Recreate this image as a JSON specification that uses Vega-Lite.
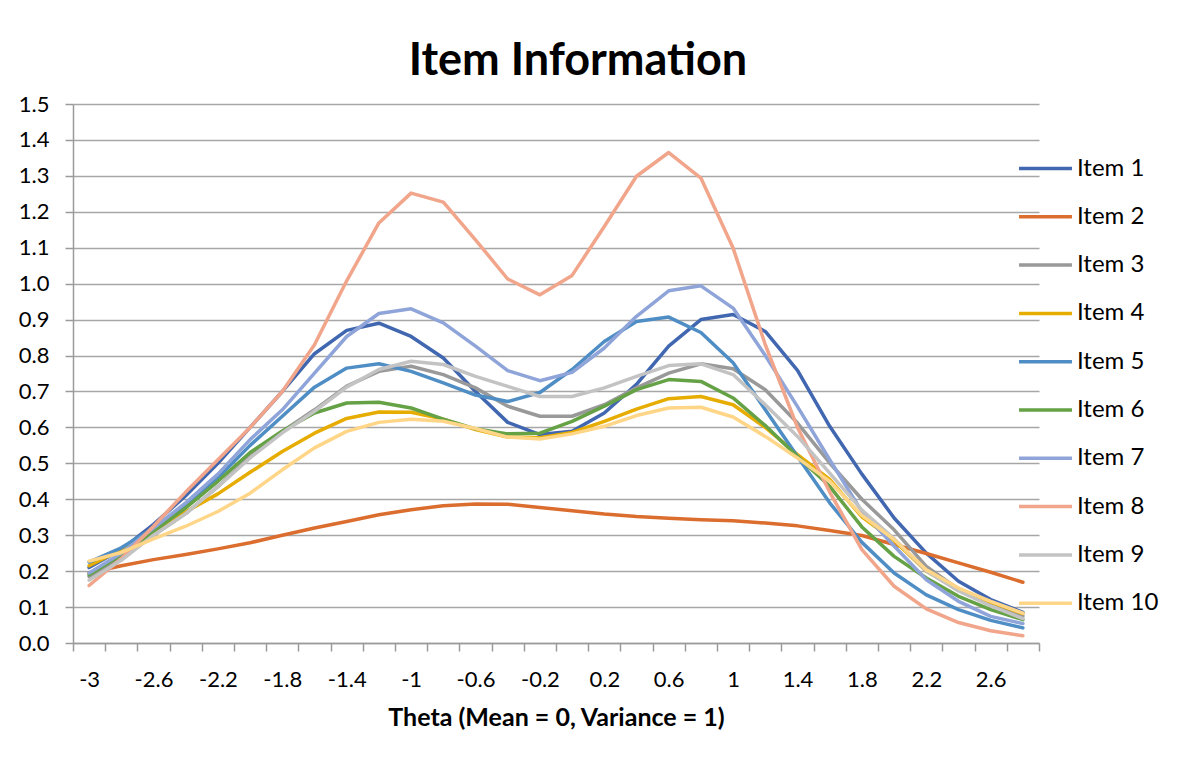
{
  "$schema": "https://vega.github.io/schema/vega-lite/v6.json",
  "width": 966,
  "height": 539,
  "autosize": {"type": "none"},
  "padding": {"left": 73, "top": 104, "right": 139, "bottom": 118},
  "background": "white",
  "title": {"text": "Item Information", "font": "Lato", "fontSize": 45, "fontWeight": "bold", "color": "#000000", "anchor": "middle", "offset": 9, "dx": 22},
  "config": {
    "view": {"stroke": null},
    "font": "Lato"
  },
  "data": {"values": [
{"theta":-3,"item":"Item 1","info":0.21},{"theta":-2.8,"item":"Item 1","info":0.26},{"theta":-2.6,"item":"Item 1","info":0.33},{"theta":-2.4,"item":"Item 1","info":0.41},{"theta":-2.2,"item":"Item 1","info":0.5},{"theta":-2,"item":"Item 1","info":0.6},{"theta":-1.8,"item":"Item 1","info":0.7},{"theta":-1.6,"item":"Item 1","info":0.805},{"theta":-1.4,"item":"Item 1","info":0.87},{"theta":-1.2,"item":"Item 1","info":0.89},{"theta":-1,"item":"Item 1","info":0.853},{"theta":-0.8,"item":"Item 1","info":0.793},{"theta":-0.6,"item":"Item 1","info":0.7},{"theta":-0.4,"item":"Item 1","info":0.614},{"theta":-0.2,"item":"Item 1","info":0.58},{"theta":0,"item":"Item 1","info":0.589},{"theta":0.2,"item":"Item 1","info":0.64},{"theta":0.4,"item":"Item 1","info":0.72},{"theta":0.6,"item":"Item 1","info":0.826},{"theta":0.8,"item":"Item 1","info":0.9},{"theta":1,"item":"Item 1","info":0.914},{"theta":1.2,"item":"Item 1","info":0.867},{"theta":1.4,"item":"Item 1","info":0.759},{"theta":1.6,"item":"Item 1","info":0.603},{"theta":1.8,"item":"Item 1","info":0.47},{"theta":2,"item":"Item 1","info":0.348},{"theta":2.2,"item":"Item 1","info":0.25},{"theta":2.4,"item":"Item 1","info":0.172},{"theta":2.6,"item":"Item 1","info":0.121},{"theta":2.8,"item":"Item 1","info":0.085},
{"theta":-3,"item":"Item 2","info":0.195},{"theta":-2.8,"item":"Item 2","info":0.215},{"theta":-2.6,"item":"Item 2","info":0.232},{"theta":-2.4,"item":"Item 2","info":0.246},{"theta":-2.2,"item":"Item 2","info":0.262},{"theta":-2,"item":"Item 2","info":0.279},{"theta":-1.8,"item":"Item 2","info":0.3},{"theta":-1.6,"item":"Item 2","info":0.32},{"theta":-1.4,"item":"Item 2","info":0.338},{"theta":-1.2,"item":"Item 2","info":0.357},{"theta":-1,"item":"Item 2","info":0.371},{"theta":-0.8,"item":"Item 2","info":0.382},{"theta":-0.6,"item":"Item 2","info":0.387},{"theta":-0.4,"item":"Item 2","info":0.386},{"theta":-0.2,"item":"Item 2","info":0.377},{"theta":0,"item":"Item 2","info":0.368},{"theta":0.2,"item":"Item 2","info":0.359},{"theta":0.4,"item":"Item 2","info":0.352},{"theta":0.6,"item":"Item 2","info":0.347},{"theta":0.8,"item":"Item 2","info":0.343},{"theta":1,"item":"Item 2","info":0.34},{"theta":1.2,"item":"Item 2","info":0.334},{"theta":1.4,"item":"Item 2","info":0.326},{"theta":1.6,"item":"Item 2","info":0.313},{"theta":1.8,"item":"Item 2","info":0.299},{"theta":2,"item":"Item 2","info":0.274},{"theta":2.2,"item":"Item 2","info":0.249},{"theta":2.4,"item":"Item 2","info":0.223},{"theta":2.6,"item":"Item 2","info":0.197},{"theta":2.8,"item":"Item 2","info":0.169},
{"theta":-3,"item":"Item 3","info":0.185},{"theta":-2.8,"item":"Item 3","info":0.235},{"theta":-2.6,"item":"Item 3","info":0.3},{"theta":-2.4,"item":"Item 3","info":0.36},{"theta":-2.2,"item":"Item 3","info":0.435},{"theta":-2,"item":"Item 3","info":0.52},{"theta":-1.8,"item":"Item 3","info":0.589},{"theta":-1.6,"item":"Item 3","info":0.649},{"theta":-1.4,"item":"Item 3","info":0.715},{"theta":-1.2,"item":"Item 3","info":0.756},{"theta":-1,"item":"Item 3","info":0.77},{"theta":-0.8,"item":"Item 3","info":0.747},{"theta":-0.6,"item":"Item 3","info":0.71},{"theta":-0.4,"item":"Item 3","info":0.659},{"theta":-0.2,"item":"Item 3","info":0.631},{"theta":0,"item":"Item 3","info":0.631},{"theta":0.2,"item":"Item 3","info":0.663},{"theta":0.4,"item":"Item 3","info":0.71},{"theta":0.6,"item":"Item 3","info":0.751},{"theta":0.8,"item":"Item 3","info":0.777},{"theta":1,"item":"Item 3","info":0.763},{"theta":1.2,"item":"Item 3","info":0.705},{"theta":1.4,"item":"Item 3","info":0.612},{"theta":1.6,"item":"Item 3","info":0.501},{"theta":1.8,"item":"Item 3","info":0.4},{"theta":2,"item":"Item 3","info":0.315},{"theta":2.2,"item":"Item 3","info":0.213},{"theta":2.4,"item":"Item 3","info":0.15},{"theta":2.6,"item":"Item 3","info":0.108},{"theta":2.8,"item":"Item 3","info":0.075},
{"theta":-3,"item":"Item 4","info":0.215},{"theta":-2.8,"item":"Item 4","info":0.26},{"theta":-2.6,"item":"Item 4","info":0.31},{"theta":-2.4,"item":"Item 4","info":0.365},{"theta":-2.2,"item":"Item 4","info":0.415},{"theta":-2,"item":"Item 4","info":0.475},{"theta":-1.8,"item":"Item 4","info":0.533},{"theta":-1.6,"item":"Item 4","info":0.584},{"theta":-1.4,"item":"Item 4","info":0.625},{"theta":-1.2,"item":"Item 4","info":0.643},{"theta":-1,"item":"Item 4","info":0.642},{"theta":-0.8,"item":"Item 4","info":0.623},{"theta":-0.6,"item":"Item 4","info":0.594},{"theta":-0.4,"item":"Item 4","info":0.573},{"theta":-0.2,"item":"Item 4","info":0.571},{"theta":0,"item":"Item 4","info":0.586},{"theta":0.2,"item":"Item 4","info":0.617},{"theta":0.4,"item":"Item 4","info":0.651},{"theta":0.6,"item":"Item 4","info":0.68},{"theta":0.8,"item":"Item 4","info":0.686},{"theta":1,"item":"Item 4","info":0.663},{"theta":1.2,"item":"Item 4","info":0.6},{"theta":1.4,"item":"Item 4","info":0.524},{"theta":1.6,"item":"Item 4","info":0.455},{"theta":1.8,"item":"Item 4","info":0.351},{"theta":2,"item":"Item 4","info":0.285},{"theta":2.2,"item":"Item 4","info":0.2},{"theta":2.4,"item":"Item 4","info":0.15},{"theta":2.6,"item":"Item 4","info":0.114},{"theta":2.8,"item":"Item 4","info":0.082},
{"theta":-3,"item":"Item 5","info":0.225},{"theta":-2.8,"item":"Item 5","info":0.265},{"theta":-2.6,"item":"Item 5","info":0.32},{"theta":-2.4,"item":"Item 5","info":0.385},{"theta":-2.2,"item":"Item 5","info":0.46},{"theta":-2,"item":"Item 5","info":0.55},{"theta":-1.8,"item":"Item 5","info":0.631},{"theta":-1.6,"item":"Item 5","info":0.712},{"theta":-1.4,"item":"Item 5","info":0.765},{"theta":-1.2,"item":"Item 5","info":0.777},{"theta":-1,"item":"Item 5","info":0.756},{"theta":-0.8,"item":"Item 5","info":0.724},{"theta":-0.6,"item":"Item 5","info":0.69},{"theta":-0.4,"item":"Item 5","info":0.672},{"theta":-0.2,"item":"Item 5","info":0.697},{"theta":0,"item":"Item 5","info":0.761},{"theta":0.2,"item":"Item 5","info":0.839},{"theta":0.4,"item":"Item 5","info":0.895},{"theta":0.6,"item":"Item 5","info":0.907},{"theta":0.8,"item":"Item 5","info":0.864},{"theta":1,"item":"Item 5","info":0.78},{"theta":1.2,"item":"Item 5","info":0.649},{"theta":1.4,"item":"Item 5","info":0.519},{"theta":1.6,"item":"Item 5","info":0.39},{"theta":1.8,"item":"Item 5","info":0.28},{"theta":2,"item":"Item 5","info":0.195},{"theta":2.2,"item":"Item 5","info":0.134},{"theta":2.4,"item":"Item 5","info":0.093},{"theta":2.6,"item":"Item 5","info":0.063},{"theta":2.8,"item":"Item 5","info":0.042},
{"theta":-3,"item":"Item 6","info":0.19},{"theta":-2.8,"item":"Item 6","info":0.245},{"theta":-2.6,"item":"Item 6","info":0.31},{"theta":-2.4,"item":"Item 6","info":0.376},{"theta":-2.2,"item":"Item 6","info":0.45},{"theta":-2,"item":"Item 6","info":0.53},{"theta":-1.8,"item":"Item 6","info":0.59},{"theta":-1.6,"item":"Item 6","info":0.64},{"theta":-1.4,"item":"Item 6","info":0.668},{"theta":-1.2,"item":"Item 6","info":0.67},{"theta":-1,"item":"Item 6","info":0.654},{"theta":-0.8,"item":"Item 6","info":0.623},{"theta":-0.6,"item":"Item 6","info":0.596},{"theta":-0.4,"item":"Item 6","info":0.582},{"theta":-0.2,"item":"Item 6","info":0.584},{"theta":0,"item":"Item 6","info":0.617},{"theta":0.2,"item":"Item 6","info":0.659},{"theta":0.4,"item":"Item 6","info":0.705},{"theta":0.6,"item":"Item 6","info":0.733},{"theta":0.8,"item":"Item 6","info":0.728},{"theta":1,"item":"Item 6","info":0.682},{"theta":1.2,"item":"Item 6","info":0.605},{"theta":1.4,"item":"Item 6","info":0.519},{"theta":1.6,"item":"Item 6","info":0.436},{"theta":1.8,"item":"Item 6","info":0.323},{"theta":2,"item":"Item 6","info":0.241},{"theta":2.2,"item":"Item 6","info":0.181},{"theta":2.4,"item":"Item 6","info":0.13},{"theta":2.6,"item":"Item 6","info":0.093},{"theta":2.8,"item":"Item 6","info":0.065},
{"theta":-3,"item":"Item 7","info":0.195},{"theta":-2.8,"item":"Item 7","info":0.25},{"theta":-2.6,"item":"Item 7","info":0.32},{"theta":-2.4,"item":"Item 7","info":0.39},{"theta":-2.2,"item":"Item 7","info":0.47},{"theta":-2,"item":"Item 7","info":0.566},{"theta":-1.8,"item":"Item 7","info":0.649},{"theta":-1.6,"item":"Item 7","info":0.751},{"theta":-1.4,"item":"Item 7","info":0.853},{"theta":-1.2,"item":"Item 7","info":0.917},{"theta":-1,"item":"Item 7","info":0.93},{"theta":-0.8,"item":"Item 7","info":0.891},{"theta":-0.6,"item":"Item 7","info":0.826},{"theta":-0.4,"item":"Item 7","info":0.758},{"theta":-0.2,"item":"Item 7","info":0.73},{"theta":0,"item":"Item 7","info":0.753},{"theta":0.2,"item":"Item 7","info":0.821},{"theta":0.4,"item":"Item 7","info":0.909},{"theta":0.6,"item":"Item 7","info":0.98},{"theta":0.8,"item":"Item 7","info":0.994},{"theta":1,"item":"Item 7","info":0.932},{"theta":1.2,"item":"Item 7","info":0.8},{"theta":1.4,"item":"Item 7","info":0.658},{"theta":1.6,"item":"Item 7","info":0.51},{"theta":1.8,"item":"Item 7","info":0.366},{"theta":2,"item":"Item 7","info":0.27},{"theta":2.2,"item":"Item 7","info":0.176},{"theta":2.4,"item":"Item 7","info":0.116},{"theta":2.6,"item":"Item 7","info":0.074},{"theta":2.8,"item":"Item 7","info":0.054},
{"theta":-3,"item":"Item 8","info":0.16},{"theta":-2.8,"item":"Item 8","info":0.235},{"theta":-2.6,"item":"Item 8","info":0.325},{"theta":-2.4,"item":"Item 8","info":0.42},{"theta":-2.2,"item":"Item 8","info":0.51},{"theta":-2,"item":"Item 8","info":0.6},{"theta":-1.8,"item":"Item 8","info":0.7},{"theta":-1.6,"item":"Item 8","info":0.83},{"theta":-1.4,"item":"Item 8","info":1.008},{"theta":-1.2,"item":"Item 8","info":1.169},{"theta":-1,"item":"Item 8","info":1.252},{"theta":-0.8,"item":"Item 8","info":1.227},{"theta":-0.6,"item":"Item 8","info":1.122},{"theta":-0.4,"item":"Item 8","info":1.013},{"theta":-0.2,"item":"Item 8","info":0.969},{"theta":0,"item":"Item 8","info":1.023},{"theta":0.2,"item":"Item 8","info":1.159},{"theta":0.4,"item":"Item 8","info":1.299},{"theta":0.6,"item":"Item 8","info":1.365},{"theta":0.8,"item":"Item 8","info":1.294},{"theta":1,"item":"Item 8","info":1.099},{"theta":1.2,"item":"Item 8","info":0.83},{"theta":1.4,"item":"Item 8","info":0.6},{"theta":1.6,"item":"Item 8","info":0.42},{"theta":1.8,"item":"Item 8","info":0.26},{"theta":2,"item":"Item 8","info":0.158},{"theta":2.2,"item":"Item 8","info":0.095},{"theta":2.4,"item":"Item 8","info":0.057},{"theta":2.6,"item":"Item 8","info":0.034},{"theta":2.8,"item":"Item 8","info":0.02},
{"theta":-3,"item":"Item 9","info":0.175},{"theta":-2.8,"item":"Item 9","info":0.23},{"theta":-2.6,"item":"Item 9","info":0.3},{"theta":-2.4,"item":"Item 9","info":0.36},{"theta":-2.2,"item":"Item 9","info":0.435},{"theta":-2,"item":"Item 9","info":0.515},{"theta":-1.8,"item":"Item 9","info":0.585},{"theta":-1.6,"item":"Item 9","info":0.645},{"theta":-1.4,"item":"Item 9","info":0.712},{"theta":-1.2,"item":"Item 9","info":0.761},{"theta":-1,"item":"Item 9","info":0.784},{"theta":-0.8,"item":"Item 9","info":0.775},{"theta":-0.6,"item":"Item 9","info":0.742},{"theta":-0.4,"item":"Item 9","info":0.714},{"theta":-0.2,"item":"Item 9","info":0.686},{"theta":0,"item":"Item 9","info":0.686},{"theta":0.2,"item":"Item 9","info":0.71},{"theta":0.4,"item":"Item 9","info":0.742},{"theta":0.6,"item":"Item 9","info":0.772},{"theta":0.8,"item":"Item 9","info":0.777},{"theta":1,"item":"Item 9","info":0.747},{"theta":1.2,"item":"Item 9","info":0.663},{"theta":1.4,"item":"Item 9","info":0.575},{"theta":1.6,"item":"Item 9","info":0.473},{"theta":1.8,"item":"Item 9","info":0.37},{"theta":2,"item":"Item 9","info":0.29},{"theta":2.2,"item":"Item 9","info":0.2},{"theta":2.4,"item":"Item 9","info":0.145},{"theta":2.6,"item":"Item 9","info":0.103},{"theta":2.8,"item":"Item 9","info":0.068},
{"theta":-3,"item":"Item 10","info":0.228},{"theta":-2.8,"item":"Item 10","info":0.252},{"theta":-2.6,"item":"Item 10","info":0.29},{"theta":-2.4,"item":"Item 10","info":0.325},{"theta":-2.2,"item":"Item 10","info":0.366},{"theta":-2,"item":"Item 10","info":0.417},{"theta":-1.8,"item":"Item 10","info":0.482},{"theta":-1.6,"item":"Item 10","info":0.543},{"theta":-1.4,"item":"Item 10","info":0.589},{"theta":-1.2,"item":"Item 10","info":0.614},{"theta":-1,"item":"Item 10","info":0.623},{"theta":-0.8,"item":"Item 10","info":0.617},{"theta":-0.6,"item":"Item 10","info":0.597},{"theta":-0.4,"item":"Item 10","info":0.573},{"theta":-0.2,"item":"Item 10","info":0.568},{"theta":0,"item":"Item 10","info":0.582},{"theta":0.2,"item":"Item 10","info":0.603},{"theta":0.4,"item":"Item 10","info":0.633},{"theta":0.6,"item":"Item 10","info":0.654},{"theta":0.8,"item":"Item 10","info":0.656},{"theta":1,"item":"Item 10","info":0.629},{"theta":1.2,"item":"Item 10","info":0.575},{"theta":1.4,"item":"Item 10","info":0.515},{"theta":1.6,"item":"Item 10","info":0.45},{"theta":1.8,"item":"Item 10","info":0.355},{"theta":2,"item":"Item 10","info":0.288},{"theta":2.2,"item":"Item 10","info":0.204},{"theta":2.4,"item":"Item 10","info":0.153},{"theta":2.6,"item":"Item 10","info":0.116},{"theta":2.8,"item":"Item 10","info":0.083}
  ]},
  "mark": {"type": "line", "strokeWidth": 3.5, "strokeCap": "round", "strokeJoin": "round"},
  "encoding": {
    "x": {
      "field": "theta", "type": "ordinal", "bandPosition": 0.5,
      "scale": {"type": "band", "paddingInner": 0, "paddingOuter": 0},
      "sort": "ascending",
      "axis": {
        "title": "Theta (Mean = 0, Variance = 1)",
        "titleFont": "Lato", "titleFontSize": 25, "titleFontWeight": "bold", "titleColor": "#000000", "titlePadding": 15,
        "labelFont": "Lato", "labelFontSize": 22, "labelColor": "#000000", "labelAngle": 0, "labelPadding": 18,
        "labelOverlap": false,
        "labelExpr": "round((datum.value + 3) * 5) % 2 == 0 ? datum.label : ''",
        "tickBand": "extent", "ticks": true, "tickSize": 8, "tickColor": "#9a9a9a", "tickWidth": 1.5,
        "domain": true, "domainColor": "#9a9a9a", "domainWidth": 1.5,
        "grid": false
      }
    },
    "y": {
      "field": "info", "type": "quantitative",
      "scale": {"domain": [0, 1.5], "nice": false, "zero": true},
      "axis": {
        "title": null,
        "values": [0,0.1,0.2,0.3,0.4,0.5,0.6,0.7,0.8,0.9,1.0,1.1,1.2,1.3,1.4,1.5],
        "format": ".1f",
        "labelFont": "Lato", "labelFontSize": 22, "labelColor": "#000000", "labelPadding": 16,
        "ticks": true, "tickSize": 8, "tickColor": "#9a9a9a", "tickWidth": 1.5,
        "domain": true, "domainColor": "#9a9a9a", "domainWidth": 1.5,
        "grid": true, "gridColor": "#a6a6a6", "gridWidth": 1.5
      }
    },
    "color": {
      "field": "item", "type": "nominal",
      "scale": {
        "domain": ["Item 1","Item 2","Item 3","Item 4","Item 5","Item 6","Item 7","Item 8","Item 9","Item 10"],
        "range": ["#4167B1","#DB6D2E","#999999","#E6AC00","#4F8DC5","#65A145","#8FA4D8","#F1A58A","#C3C3C3","#FFD687"]
      },
      "legend": {
        "title": null, "orient": "none", "legendX": 944, "legendY": 36,
        "symbolType": "stroke", "symbolSize": 2800, "symbolStrokeWidth": 3.5,
        "labelFont": "Lato", "labelFontSize": 24, "labelColor": "#000000", "labelOffset": 3,
        "rowPadding": 7.3
      }
    }
  }
}
